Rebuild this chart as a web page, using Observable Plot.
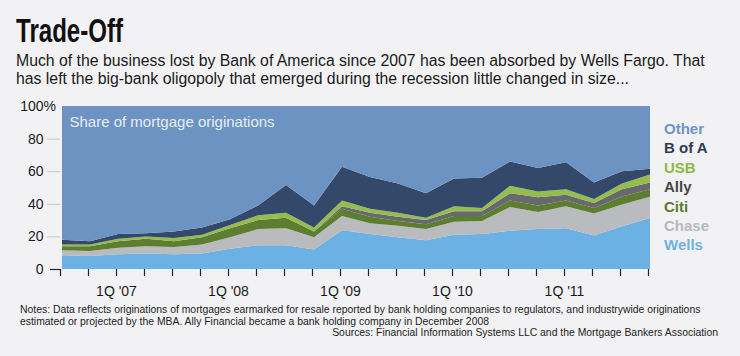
<!DOCTYPE html>
<html><head><meta charset="utf-8">
<script src="https://cdn.jsdelivr.net/npm/d3@7"></script>
<script src="https://cdn.jsdelivr.net/npm/@observablehq/plot@0.6"></script>
<style>
html,body{margin:0;padding:0;background:#f2f2f4;width:740px;height:356px;overflow:hidden;font-family:"Liberation Sans",Arial,sans-serif;}
#title{position:absolute;left:16px;top:13px;font-family:"Liberation Sans",Arial,sans-serif;font-weight:bold;font-size:33px;color:#111;line-height:36px;transform:scaleX(0.73);transform-origin:left top;white-space:nowrap;}
#sub{position:absolute;left:16px;top:52px;font-size:15.8px;line-height:18px;color:#1a1a1a;width:730px;white-space:nowrap;}
#chart{position:absolute;left:0;top:95px;}
#legend{position:absolute;left:664px;top:119px;font-weight:bold;font-size:15px;line-height:19.4px;}
#notes{position:absolute;left:20px;top:304px;font-size:10.4px;line-height:11.5px;color:#222;width:710px;white-space:nowrap;}
#src{position:absolute;right:22px;top:327px;font-size:10.4px;color:#222;}
</style></head>
<body>
<div id="title">Trade-Off</div>
<div id="sub">Much of the business lost by Bank of America since 2007 has been absorbed by Wells Fargo. That<br>has left the big-bank oligopoly that emerged during the recession little changed in size...</div>
<div id="chart"></div>
<div id="legend"></div>
<div id="notes">Notes: Data reflects originations of mortgages earmarked for resale reported by bank holding companies to regulators, and industrywide originations<br>estimated or projected by the MBA. Ally Financial became a bank holding company in December 2008</div>
<div id="src">Sources: Financial Information Systems LLC and the Mortgage Bankers Association</div>
<script>
const quarters = ["3Q '06","4Q '06",
  "1Q '07","2Q '07","3Q '07","4Q '07",
  "1Q '08","2Q '08","3Q '08","4Q '08",
  "1Q '09","2Q '09","3Q '09","4Q '09",
  "1Q '10","2Q '10","3Q '10","4Q '10",
  "1Q '11","2Q '11","3Q '11","4Q '11"];
const seriesNames = ["Wells","Chase","Citi","Ally","USB","B of A","Other"];
const wells = [8.5,8,9,9.5,9,9.5,12.5,14.5,14.5,12,23.8,21.5,19.5,17.7,21,21.5,23.5,24.5,25,20.5,26.3,31.3];
const chase = [3,3,4,4.5,4.5,5.5,7,10,10.5,7.5,8.7,6.5,7,6.8,8,8,14.5,10.5,13.5,13.5,13.2,13];
const citi  = [2.5,3,4,4.5,3.5,4.5,5.5,5.5,6.5,3.5,4.5,4,3,3,3.5,3,4,4,3.5,3.5,5,4.6];
const ally  = [0,0,0,0,0,0,0,0,0,0,1.5,2.5,2.5,2.5,3,3,4.5,5,3.5,3,4.5,4.1];
const usb   = [1,1,1.5,1.5,2,1.5,2,3,3,2.5,3.5,2.5,2.5,1.5,3,2,4.5,3.5,3.5,2.5,3.5,5];
const bofa  = [3,2,3,2,4,4.5,3.5,6,17,13.5,20.8,19.5,18,15,17,18.5,15,14.5,16.5,10,7.5,3.5];
const other = [82,83,78.5,78,77,74.5,69.5,61,48.5,61,37.2,43.5,47.5,53.5,44.5,44,34,38,34.5,47,40,38.5];
const yTicks = [0,20,40,60,80,100];
const yMinorTicks = [20,40,60,80];

const seriesValues = {"Wells":wells,"Chase":chase,"Citi":citi,"Ally":ally,"USB":usb,"B of A":bofa,"Other":other};
const fills = ["#6cb1e4","#b9bbbe","#5d7d30","#67696c","#95bd4e","#34486a","#6c93c2"];
const legendColors = {"Other":"#6d95c4","B of A":"#2e3b55","USB":"#8eb847","Ally":"#454648","Citi":"#5a7a2c","Chase":"#b7b9bb","Wells":"#6db2e6"};

const data = [];
for (const s of seriesNames) seriesValues[s].forEach((v,i)=>data.push({q:quarters[i], series:s, value:v}));

const chart = Plot.plot({
  width: 740, height: 205,
  marginTop: 11, marginBottom: 31, marginLeft: 60, marginRight: 88,
  style: {background:"transparent", fontFamily:"'Liberation Sans', Arial, sans-serif", fontSize:"14px", color:"#1a1a1a"},
  x: {type:"point", domain: quarters, padding: 0},
  y: {domain:[0,100]},
  color: {domain: seriesNames, range: fills},
  marks: [
    Plot.areaY(data, {x:"q", y:"value", fill:"series", order: seriesNames, curve:"linear"}),
    Plot.axisX({tickSize:7, tickPadding:10, stroke:"#222", strokeWidth:1.2, fontSize:14, dx:-2, label:null,
      tickFormat: d => d.startsWith("1Q") ? d : ""}),
    Plot.axisY(yTicks, {tickSize:0, tickPadding:17, fontSize:14, label:null, tickFormat: d => String(d)}),
    Plot.axisY(yMinorTicks, {tickSize:13, stroke:"#c4c4c6", strokeWidth:1, label:null, tickFormat: () => ""}),
    Plot.axisY([0], {tickSize:10, stroke:"#222", strokeWidth:1.2, label:null, tickFormat: () => ""}),
    Plot.text([100], {y: d => d, text: () => "%", frameAnchor:"left", dx:-17, textAnchor:"start", fontSize:14}),
    Plot.text(["Share of mortgage originations"], {frameAnchor:"top-left", dx:9, dy:16, fill:"#e6edf6", fontSize:15, textAnchor:"start", lineAnchor:"middle"})
  ]
});
document.getElementById("chart").appendChild(chart);

const legend = document.getElementById("legend");
for (const s of seriesNames.slice().reverse()) {
  const d = document.createElement("div");
  d.textContent = s;
  d.style.color = legendColors[s];
  legend.appendChild(d);
}
</script>
</body></html>
